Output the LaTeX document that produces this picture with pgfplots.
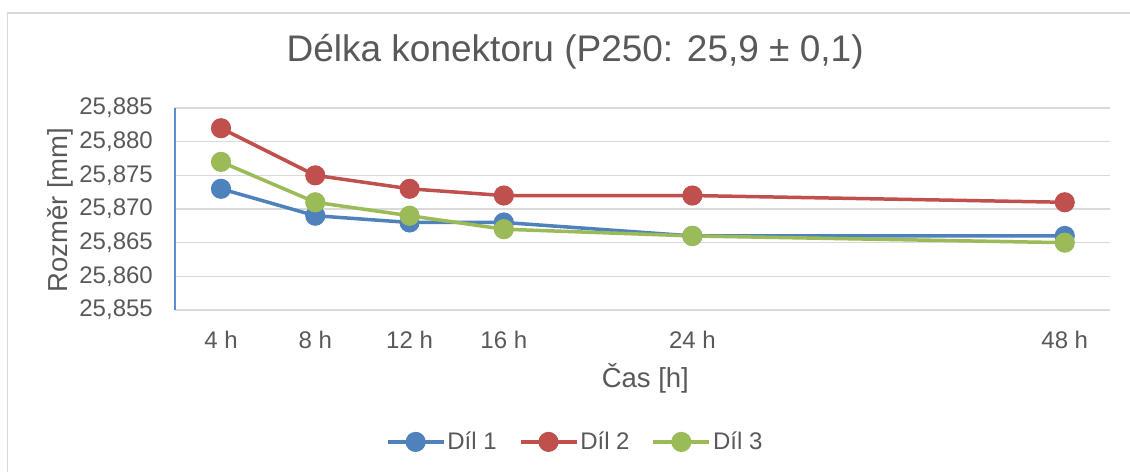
\documentclass[border=0pt]{standalone}
\usepackage{fontspec}
\setmainfont{Liberation Sans}
\usepackage{pgfplots}
\pgfplotsset{compat=1.18}
\definecolor{txt}{HTML}{595959}
\definecolor{d1}{HTML}{4F81BD}
\definecolor{d2}{HTML}{C0504D}
\definecolor{d3}{HTML}{9BBB59}
\definecolor{gridc}{HTML}{D9D9D9}
\definecolor{yax}{HTML}{5B8FD0}

\begin{document}
\begin{tikzpicture}[x=1pt,y=1pt]
\useasboundingbox (0,0) rectangle (1130,472);
\fill[white] (0,0) rectangle (1130,472);
\draw[gridc, line width=1.5pt] (7.5,0) -- (7.5,459) -- (1130,459);
\begin{axis}[
    at={(175pt,162pt)}, anchor=south west,
    scale only axis,
    width=935pt, height=202pt,
    xmin=-0.488, xmax=9.43,
    ymin=25.855, ymax=25.885,
    xtick={0,1,2,3,5,8.95},
    xticklabels={4 h,8 h,12 h,16 h,24 h,48 h},
    ytick={25.855,25.860,25.865,25.870,25.875,25.880,25.885},
    /pgf/number format/fixed,
    /pgf/number format/fixed zerofill,
    /pgf/number format/precision=3,
    /pgf/number format/use comma,
    /pgf/number format/1000 sep={},
    /pgf/number format/assume math mode=true,
    major tick length=0pt,
    axis line style={draw=none},
    ymajorgrids,
    grid style={gridc, line width=1.5pt},
    every tick label/.append style={font=\fontsize{24}{28}\selectfont, text=txt},
    xticklabel style={anchor=center, inner sep=0pt, yshift=-30pt},
    yticklabel style={anchor=east, inner sep=0pt, xshift=-22pt},
    title={Délka konektoru (P250: 25,9 ± 0,1)},
    title style={at={(0.428,1.248)}, anchor=center, yshift=0pt, font=\fontsize{37}{44}\selectfont, text=txt},
    xlabel={Čas [h]},
    xlabel style={at={(0.503,-0.337)}, anchor=center, font=\fontsize{27.5}{32}\selectfont, text=txt},
    ylabel={Rozměr [mm]},
    ylabel style={at={(-0.123,0.495)}, anchor=center, font=\fontsize{27.5}{32}\selectfont, text=txt},
    legend style={at={(0.428,-0.653)}, anchor=center, draw=none, fill=none,
        legend columns=3, font=\fontsize{24}{28}\selectfont, text=txt,
        /tikz/every even column/.append style={column sep=20pt}},
    legend image code/.code={\draw[mark repeat=2,mark phase=2,#1] plot coordinates {(0pt,0pt) (28pt,0pt) (56pt,0pt)};},
    every axis plot/.append style={line width=3.5pt, mark=*, mark size=8.3pt},
    clip=false,
]

\addplot[d1, mark options={fill=d1, draw=d1}] coordinates {
    (0, 25.873) (1, 25.869) (2, 25.868) (3, 25.868) (5, 25.866) (8.95, 25.866)
};
\addplot[d2, mark options={fill=d2, draw=d2}] coordinates {
    (0, 25.882) (1, 25.875) (2, 25.873) (3, 25.872) (5, 25.872) (8.95, 25.871)
};
\addplot[d3, mark options={fill=d3, draw=d3}] coordinates {
    (0, 25.877) (1, 25.871) (2, 25.869) (3, 25.867) (5, 25.866) (8.95, 25.865)
};
\legend{Díl 1, Díl 2, Díl 3}

\draw[yax, line width=2pt] (rel axis cs:0,0) -- (rel axis cs:0,1);
\end{axis}
\end{tikzpicture}
\end{document}
